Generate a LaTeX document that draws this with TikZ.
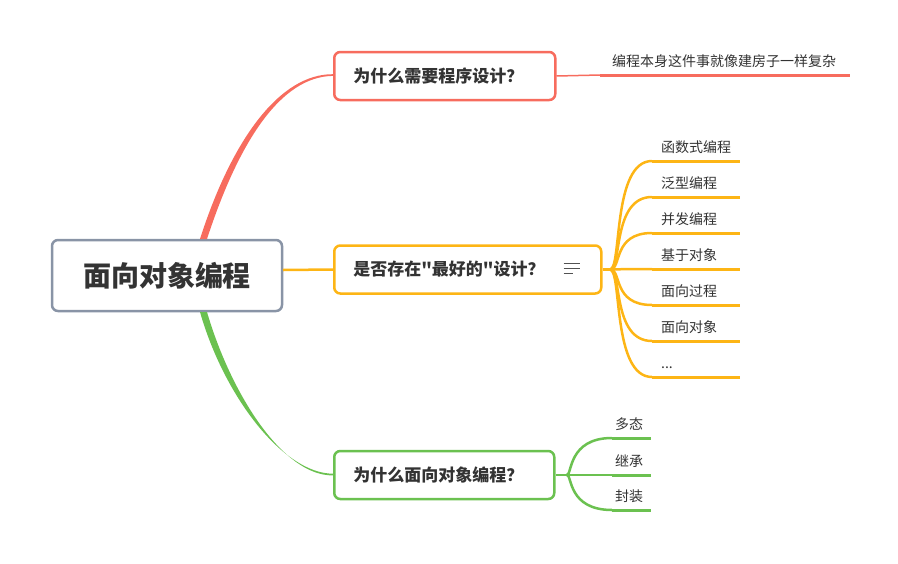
\documentclass[tikz,border=0pt]{standalone}
\usepackage{fontspec}
\setmainfont{Noto Sans CJK SC}
\newfontfamily\cjk{Noto Sans CJK SC}
\usetikzlibrary{calc}
\definecolor{mmred}{HTML}{F76C5E}
\definecolor{mmorange}{HTML}{FDB515}
\definecolor{mmgreen}{HTML}{6BC150}
\definecolor{mmgray}{HTML}{8994A6}
\definecolor{mmtext}{HTML}{333333}

\begin{document}
\begin{tikzpicture}[x=1pt,y=-1pt,
	root/.style={draw=mmgray,line width=2.5pt,rounded corners=6pt,fill=white,minimum width=230pt,minimum height=71pt,text=mmtext,font=\cjk\fontsize{28}{32}\selectfont\bfseries},
	branch/.style={draw=#1,line width=2.5pt,rounded corners=6pt,fill=white,anchor=west,minimum height=48pt,inner xsep=19pt,align=left,text=mmtext,font=\cjk\fontsize{17}{20}\selectfont\bfseries},
	leaf/.style={anchor=south west,inner ysep=6.7pt,text height=12pt,text depth=2pt,align=left,text=mmtext,font=\cjk\fontsize{14}{16}\selectfont},
	leafline/.style={draw=#1,line width=3pt},
	conn/.style={draw=#1,line width=2.5pt}]
			\useasboundingbox (0,0) rectangle (898,563);
			% main topic and branches
			\node[root] (root) at (167,275.5) {面向对象编程};
			\node[branch=mmred,text width=183pt] (b1) at (333,76) {为什么需要程序设计？};
			\node[branch=mmorange,text width=229pt] (b2) at (333,269.5) {是否存在"最好的"设计？};
			\node[branch=mmgreen,text width=182pt] (b3) at (333,475) {为什么面向对象编程？};
			% note icon
			\draw[line width=1.3pt,color=mmtext!85] ($(b2.east)+(-39,-6.2)$) -- ++(16,0);
			\draw[line width=1.3pt,color=mmtext!85] ($(b2.east)+(-39,-1.2)$) -- ++(16,0);
			\draw[line width=1.3pt,color=mmtext!85] ($(b2.east)+(-39,3.8)$) -- ++(9,0);
			% root connectors
			\coordinate (rtop) at (200,239);
			\coordinate (rbot) at (200,312);
			\coordinate (rright) at (283,270);
			\fill[mmred] (rtop) .. controls (232,139) and (280,73.8) .. ($(b1.west)+(0,-1.8)$) -- ($(b1.west)+(0,-0.1)$) .. controls (281,76.5) and (239,141) .. ($(rtop)+(7,0)$) -- cycle;
			\fill[mmgreen] (rbot) .. controls (224,396) and (283,473.5) .. ($(b3.west)+(0,-1.3)$) -- ($(b3.west)+(0,0.4)$) .. controls (283,476) and (231,394) .. ($(rbot)+(7,0)$) -- cycle;
			\draw[conn=mmorange] (rright) -- (b2.west);
			% why programming design
			\node[leaf,inner xsep=12pt,text width=226pt] (r1) at (600,75) {编程本身这件事就像建房子一样复杂};
			\draw[conn=mmred,line width=1.5pt] (b1.east) -- (r1.south west);
			\draw[leafline=mmred] (r1.south west) -- (r1.south east);
			% best design
			\coordinate (of) at (610,269.5);
			\draw[conn=mmorange] (b2.east) -- (of);
			\foreach \txt [count=\i] in {函数式编程,泛型编程,并发编程,基于对象,面向过程,面向对象}{
				\node[leaf,inner xsep=9pt,text width=70pt] (o\i) at (652,125+36*\i) {\txt};
				\draw[conn=mmorange] (of) .. controls +(12,0) and +(-40,0) .. (o\i.south west);
				\draw[leafline=mmorange] (o\i.south west) -- (o\i.south east);
			}
			\node[leaf,inner xsep=9pt,text width=70pt] (o7) at (652,377) {...};
			\draw[conn=mmorange] (of) .. controls +(12,0) and +(-40,0) .. (o7.south west);
			\draw[leafline=mmorange] (o7.south west) -- (o7.south east);
			% why object oriented
			\coordinate (gf) at (567,475);
			\draw[conn=mmgreen] (b3.east) -- (gf);
			\foreach \txt/\y [count=\i] in {多态/438,继承/475,封装/510}{
				\node[leaf,inner xsep=3pt,text width=33pt] (g\i) at (612,\y) {\txt};
				\draw[conn=mmgreen] (gf) .. controls +(5,0) and +(-44,0) .. (g\i.south west);
				\draw[leafline=mmgreen] (g\i.south west) -- (g\i.south east);
			}
		\end{tikzpicture}
\end{document}
